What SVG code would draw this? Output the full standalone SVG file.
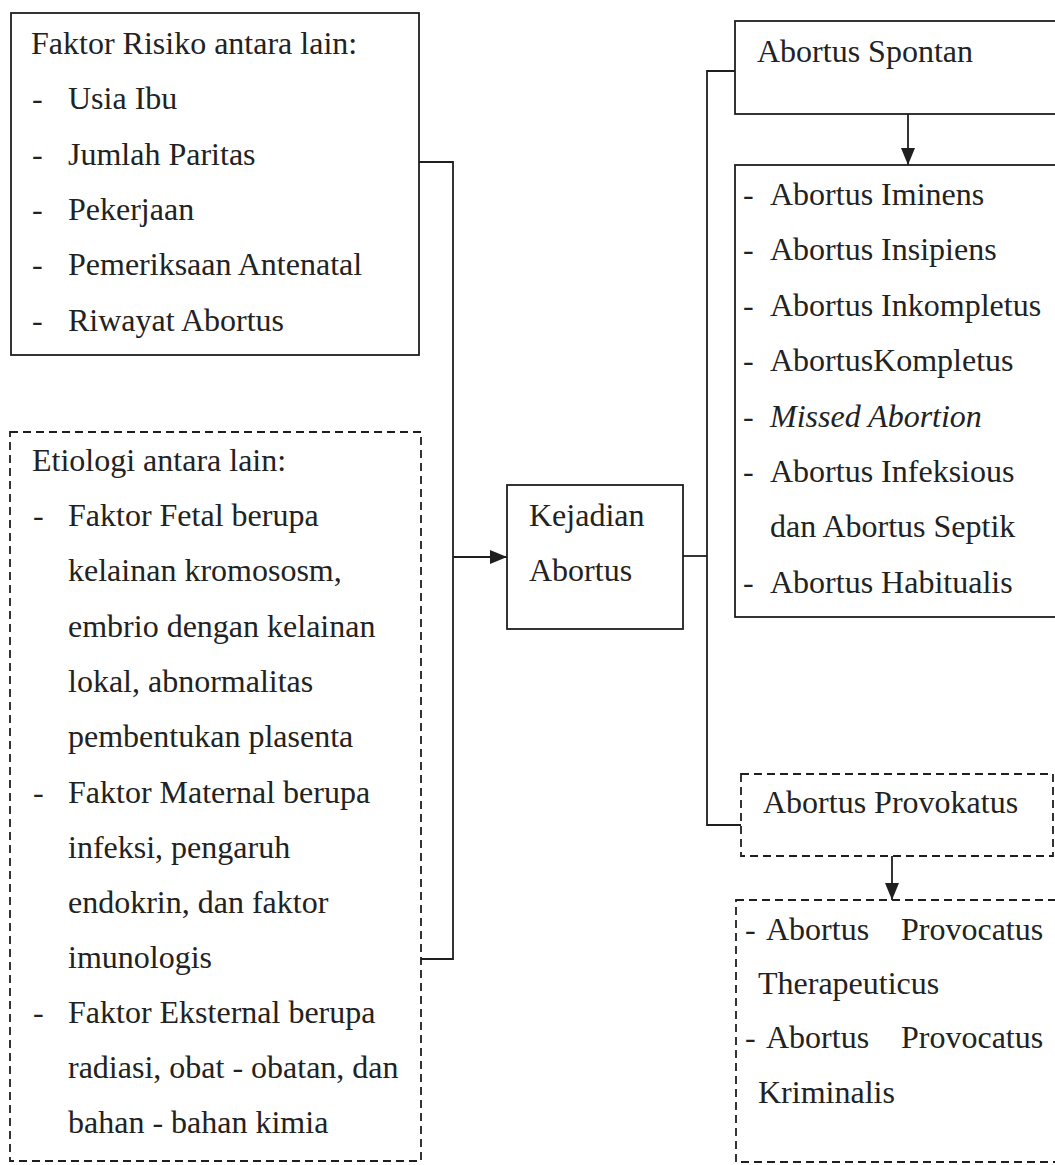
<svg xmlns="http://www.w3.org/2000/svg" width="1055" height="1165" viewBox="0 0 1055 1165">
<defs>
<style>
.box{fill:none;stroke:#1f1f1f;stroke-width:1.8}
.dash{fill:none;stroke:#1f1f1f;stroke-width:1.8;stroke-dasharray:8 5}
.ln{fill:none;stroke:#1f1f1f;stroke-width:1.8}
text{font-family:"Liberation Serif","Times New Roman",serif;font-size:32px;fill:#222}
.it{font-style:italic}
</style>
<marker id="ah" markerUnits="userSpaceOnUse" markerWidth="18" markerHeight="14" refX="17" refY="7" orient="auto">
<path d="M0,0 L17,7 L0,14 Z" fill="#1f1f1f"/>
</marker>
</defs>
<rect width="1055" height="1165" fill="#ffffff"/>

<g id="connectors">
<path class="ln" d="M419,162 H453 V959 H421"/>
<line class="ln" x1="453" y1="557" x2="507" y2="557" marker-end="url(#ah)"/>
<path class="ln" d="M683,556 H707"/>
<path class="ln" d="M735,71 H707 V825 H741"/>
<line class="ln" x1="908" y1="114" x2="908" y2="165" marker-end="url(#ah)"/>
<line class="ln" x1="892" y1="856" x2="892" y2="900" marker-end="url(#ah)"/>
</g>

<g id="faktor-risiko">
<rect class="box" x="11" y="13" width="408" height="342"/>
<text x="31" y="54">Faktor Risiko antara lain:</text>
<text x="32" y="109">-</text><text x="68" y="109">Usia Ibu</text>
<text x="32" y="165">-</text><text x="68" y="165">Jumlah Paritas</text>
<text x="32" y="220">-</text><text x="68" y="220">Pekerjaan</text>
<text x="32" y="275">-</text><text x="68" y="275">Pemeriksaan Antenatal</text>
<text x="32" y="331">-</text><text x="68" y="331">Riwayat Abortus</text>
</g>

<g id="etiologi">
<rect class="dash" x="10" y="432" width="411" height="729"/>
<text x="32" y="471">Etiologi antara lain:</text>
<text x="33" y="526">-</text><text x="68" y="526">Faktor Fetal berupa</text>
<text x="68" y="581">kelainan kromososm,</text>
<text x="68" y="637">embrio dengan kelainan</text>
<text x="68" y="692">lokal, abnormalitas</text>
<text x="68" y="747">pembentukan plasenta</text>
<text x="33" y="803">-</text><text x="68" y="803">Faktor Maternal berupa</text>
<text x="68" y="858">infeksi, pengaruh</text>
<text x="68" y="913">endokrin, dan faktor</text>
<text x="68" y="968">imunologis</text>
<text x="33" y="1023">-</text><text x="68" y="1023">Faktor Eksternal berupa</text>
<text x="68" y="1078">radiasi, obat - obatan, dan</text>
<text x="68" y="1133">bahan - bahan kimia</text>
</g>

<g id="kejadian-abortus">
<rect class="box" x="507" y="485" width="176" height="144"/>
<text x="529" y="526">Kejadian</text>
<text x="529" y="581">Abortus</text>
</g>

<g id="abortus-spontan">
<rect class="box" x="735" y="21" width="325" height="93"/>
<text x="757" y="62">Abortus Spontan</text>
</g>

<g id="jenis-spontan">
<rect class="box" x="735" y="165" width="325" height="452"/>
<text x="743" y="205">-</text><text x="770" y="205">Abortus Iminens</text>
<text x="743" y="260">-</text><text x="770" y="260">Abortus Insipiens</text>
<text x="743" y="316">-</text><text x="770" y="316">Abortus Inkompletus</text>
<text x="743" y="371">-</text><text x="770" y="371">AbortusKompletus</text>
<text x="743" y="427">-</text><text x="770" y="427" class="it">Missed Abortion</text>
<text x="743" y="482">-</text><text x="770" y="482">Abortus Infeksious</text>
<text x="770" y="537">dan Abortus Septik</text>
<text x="743" y="593">-</text><text x="770" y="593">Abortus Habitualis</text>
</g>

<g id="abortus-provokatus">
<rect class="dash" x="741" y="774" width="312" height="82"/>
<text x="763" y="813">Abortus Provokatus</text>
</g>

<g id="jenis-provokatus">
<rect class="dash" x="736" y="900" width="324" height="262"/>
<text x="745" y="940">-</text><text x="766" y="940">Abortus</text><text x="901" y="940">Provocatus</text>
<text x="758" y="994">Therapeuticus</text>
<text x="745" y="1048">-</text><text x="766" y="1048">Abortus</text><text x="901" y="1048">Provocatus</text>
<text x="758" y="1103">Kriminalis</text>
</g>
</svg>
